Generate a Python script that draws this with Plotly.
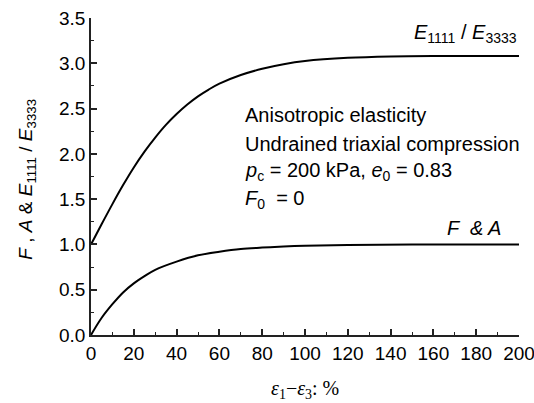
import plotly.graph_objects as go

# Strain (eps1 - eps3, %) and curve values
strain_e = [0, 5, 10, 15, 20, 25, 30, 35, 40, 45, 50, 55, 60, 70, 80, 90, 100, 120, 140, 160, 200]
ratio_e = [1.0, 1.225, 1.445, 1.655, 1.85, 2.025, 2.18, 2.32, 2.44, 2.545, 2.635, 2.71, 2.775,
           2.87, 2.94, 2.99, 3.025, 3.06, 3.075, 3.08, 3.08]

strain_fa = [0, 5, 10, 15, 20, 25, 30, 40, 50, 60, 70, 80, 90, 100, 120, 150, 200]
f_and_a = [0.0, 0.19, 0.34, 0.47, 0.57, 0.65, 0.72, 0.81, 0.88, 0.92, 0.95, 0.965, 0.977, 0.985,
           0.993, 0.998, 1.0]

x_ticks = [0, 20, 40, 60, 80, 100, 120, 140, 160, 180, 200]
y_ticks = [0.0, 0.5, 1.0, 1.5, 2.0, 2.5, 3.0, 3.5]

FONT = "Liberation Sans, Arial, sans-serif"
AX = "#222222"

fig = go.Figure()
fig.add_trace(go.Scatter(x=strain_e, y=ratio_e, mode="lines",
                         line=dict(color="black", width=2, shape="spline", smoothing=1.0),
                         showlegend=False, hoverinfo="skip"))
fig.add_trace(go.Scatter(x=strain_fa, y=f_and_a, mode="lines",
                         line=dict(color="black", width=2, shape="spline", smoothing=1.0),
                         showlegend=False, hoverinfo="skip"))

axis_common = dict(showgrid=False, zeroline=False, showline=True, linecolor=AX, linewidth=1.5,
                   ticks="inside", ticklen=6, tickwidth=1.5, tickcolor=AX,
                   ticklabeloverflow="allow", automargin=False,
                   tickfont=dict(family=FONT, size=19, color="black"))

fig.update_xaxes(range=[0, 200], tickvals=x_ticks, ticktext=[str(v) for v in x_ticks],
                 minor=dict(dtick=10, tick0=0, ticks="inside", ticklen=3, tickwidth=1.2, tickcolor=AX),
                 **axis_common)
fig.update_yaxes(range=[0, 3.5], tickvals=y_ticks, ticktext=[f"{v:.1f}" for v in y_ticks],
                 minor=dict(dtick=0.25, tick0=0, ticks="inside", ticklen=3, tickwidth=1.2, tickcolor=AX),
                 **axis_common)

ann_font = dict(family=FONT, size=20, color="black")
anns = [
    dict(x=199.8, y=3.33, text="<i>E</i><sub>1111</sub> / <i>E</i><sub>3333</sub>",
         xanchor="right", yanchor="middle"),
    dict(x=70.8, y=2.43, text="Anisotropic elasticity", xanchor="left", yanchor="middle"),
    dict(x=70.8, y=2.11, text="Undrained triaxial compression", xanchor="left", yanchor="middle"),
    dict(x=70.8, y=1.80, text="<i>p</i><sub>c</sub> = 200 kPa, <i>e</i><sub>0</sub> = 0.83",
         xanchor="left", yanchor="middle"),
    dict(x=70.8, y=1.50, text="<i>F</i><sub>0</sub>  = 0", xanchor="left", yanchor="middle"),
    dict(x=192.3, y=1.18, text="<i>F  &amp; A</i>", xanchor="right", yanchor="middle"),
]
for a in anns:
    fig.add_annotation(xref="x", yref="y", showarrow=False, font=ann_font, **a)

# y-axis title
fig.add_annotation(xref="paper", yref="paper", x=(27 - 91) / 428, y=0.49, textangle=-90,
                   text="<i>F</i> , <i>A</i> &amp; <i>E</i><sub>1111</sub> / <i>E</i><sub>3333</sub>",
                   showarrow=False, xanchor="center", yanchor="middle",
                   font=dict(family=FONT, size=19, color="black"))
# x-axis title
fig.add_annotation(xref="paper", yref="paper", x=0.5, y=-(389 - 335) / 317,
                   text="<i>ε</i><sub>1</sub>−<i>ε</i><sub>3</sub>: %",
                   showarrow=False, xanchor="center", yanchor="middle",
                   font=dict(family="Liberation Serif, Times New Roman, serif", size=20, color="black"))

fig.update_layout(width=534, height=403, margin=dict(l=91, r=15, t=18, b=68),
                  paper_bgcolor="white", plot_bgcolor="white")

fig.write_html("out.html")
